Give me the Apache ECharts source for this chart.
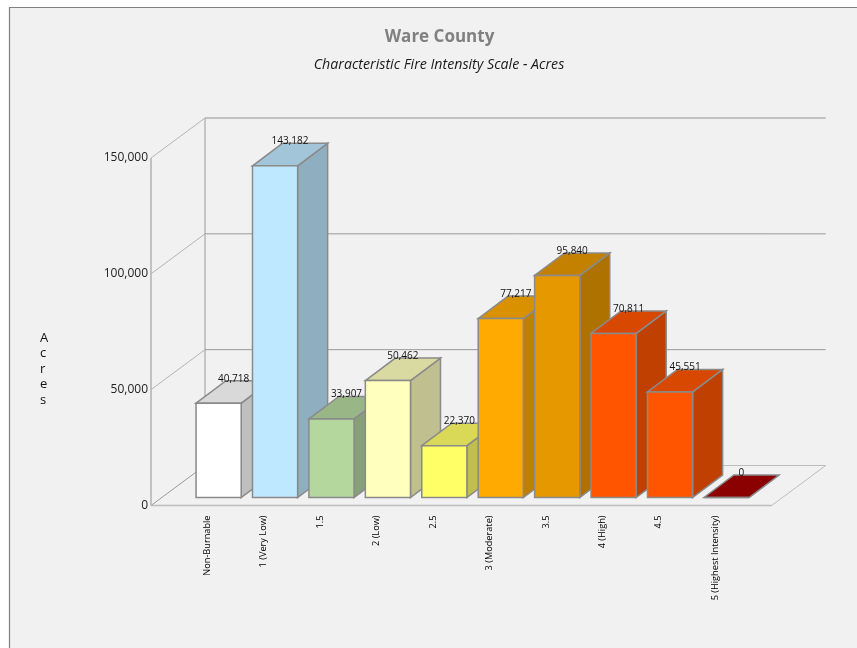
<!DOCTYPE html>
<html>
<head>
<meta charset="utf-8">
<style>html,body{margin:0;padding:0;background:#fff}#chart{width:857px;height:648px}</style>
<script src="https://cdn.jsdelivr.net/npm/echarts@6/dist/echarts.min.js"></script>
</head>
<body>
<div id="chart"></div>
<script>
// Acres per fire intensity class
const categories = ['Non-Burnable', '1 (Very Low)', '1.5', '2 (Low)', '2.5', '3 (Moderate)', '3.5', '4 (High)', '4.5', '5 (Highest Intensity)'];
const acres = [40718, 143182, 33907, 50462, 22370, 77217, 95840, 70811, 45551, 0];
const barColors = ['#ffffff', '#bee8ff', '#b4d79e', '#ffffbe', '#ffff66', '#ffaa00', '#e69800', '#ff5500', '#ff5500', '#a30000'];
const yTicks = [0, 50000, 100000, 150000];

// Oblique projection of the depth axis, in pixels
const DEPTH_X = 54, DEPTH_Y = -40;
const BAR_OFFSET_X = 11.2, BAR_OFFSET_Y = -8;
const BAR_DEPTH_X = 30, BAR_DEPTH_Y = -22.5;
const BAR_WIDTH_RATIO = 0.8;
const FONT = '"Open Sans", sans-serif';

function shade(hex, k) {
  const n = parseInt(hex.slice(1), 16);
  const c = [(n >> 16) & 255, (n >> 8) & 255, n & 255].map(v => Math.round(v * k));
  return 'rgb(' + c.join(',') + ')';
}

function poly(points, fill, stroke, lineWidth) {
  return { type: 'polygon', shape: { points }, style: { fill, stroke, lineWidth, lineJoin: 'miter' } };
}

function line(x1, y1, x2, y2, stroke, lineWidth) {
  return { type: 'line', shape: { x1, y1, x2, y2 }, style: { stroke, lineWidth, fill: null } };
}

// Side wall diagonal and back wall rule for one value tick
function renderWall(params, api) {
  const v = api.value(0);
  const p = api.coord([0, v]);
  const right = api.coord([categories.length + 1, 0])[0];
  const isTop = v === yTicks[yTicks.length - 1];
  const isFloor = v === 0;
  const children = [
    line(p[0], p[1], p[0] + DEPTH_X, p[1] + DEPTH_Y, isFloor ? '#999999' : '#b4b4b4', 1),
    line(p[0] + DEPTH_X, p[1] + DEPTH_Y, right + DEPTH_X, p[1] + DEPTH_Y, isFloor ? '#bdbdbd' : isTop ? '#b0b0b0' : '#9a9a9a', isTop ? 1.5 : 1)
  ];
  if (isFloor) {
    const top = api.coord([0, yTicks[yTicks.length - 1]]);
    children.push(
      line(p[0], p[1], right, p[1], '#bdbdbd', 1.5),
      line(right, p[1], right + DEPTH_X, p[1] + DEPTH_Y, '#bdbdbd', 1),
      line(p[0], p[1], top[0], top[1], '#b0b0b0', 1.5),
      line(p[0] + DEPTH_X, p[1] + DEPTH_Y, top[0] + DEPTH_X, top[1] + DEPTH_Y, '#9a9a9a', 1)
    );
  }
  return { type: 'group', children };
}

// Box corners shared by the bar faces and their value labels
function boxFrame(api) {
  const i = api.value(0);
  const top = api.coord([i, api.value(1)]);
  const base = api.coord([i, 0]);
  const step = api.coord([i + 1, 0])[0] - base[0];
  const w = step * BAR_WIDTH_RATIO;
  const left = base[0] + BAR_OFFSET_X - w / 2;
  return {
    left, right: left + w,
    yTop: top[1] + BAR_OFFSET_Y, yBase: base[1] + BAR_OFFSET_Y,
    dx: BAR_DEPTH_X, dy: BAR_DEPTH_Y, w
  };
}

function renderBar(params, api) {
  const f = boxFrame(api);
  const color = barColors[params.dataIndex];
  const edge = '#8a8a8a';
  return {
    type: 'group',
    children: [
      poly([[f.right, f.yTop], [f.right + f.dx, f.yTop + f.dy], [f.right + f.dx, f.yBase + f.dy], [f.right, f.yBase]], shade(color, 0.75), edge, 1.5),
      poly([[f.left, f.yTop], [f.left + f.dx, f.yTop + f.dy], [f.right + f.dx, f.yTop + f.dy], [f.right, f.yTop]], shade(color, 0.85), edge, 1.5),
      { type: 'rect', shape: { x: f.left, y: f.yTop, width: f.w, height: f.yBase - f.yTop }, style: { fill: color, stroke: edge, lineWidth: 1.5 } }
    ]
  };
}

function renderValueLabel(params, api) {
  const f = boxFrame(api);
  return {
    type: 'text',
    style: {
      x: f.left + f.w / 2 + f.dx / 2,
      y: f.yTop + f.dy - 2,
      text: api.value(1).toLocaleString('en-US'),
      fill: '#111111',
      font: '10px ' + FONT,
      align: 'center',
      verticalAlign: 'middle'
    }
  };
}

const chart = echarts.init(document.getElementById('chart'), null, { renderer: 'canvas' });
const barData = acres.map((v, i) => [i + 1, v]);

chart.setOption({
  backgroundColor: '#ffffff',
  animation: false,
  title: [
    { text: 'Ware County', left: 439.5, top: 29, padding: 0, textAlign: 'center',
      textStyle: { fontFamily: FONT, fontSize: 17, fontWeight: 'bold', color: '#808080' } },
    { text: 'Characteristic Fire Intensity Scale - Acres', left: 439, top: 58, padding: 0, textAlign: 'center',
      textStyle: { fontFamily: FONT, fontSize: 14.2, fontWeight: 'normal', fontStyle: 'italic', color: '#1a1a1a' } }
  ],
  graphic: [
    { type: 'rect', z: -10, shape: { x: 9.5, y: 7.5, width: 860, height: 660 },
      style: { fill: '#f1f1f1', stroke: '#808080', lineWidth: 1.2 } },
    { type: 'text', left: 40, top: 330.5,
      style: { text: 'A\nc\nr\ne\ns', fill: '#111111', font: '13px ' + FONT, align: 'center', lineHeight: 15.5 } }
  ],
  grid: { left: 151, right: 857 - 771.7, top: 158, bottom: 648 - 505.5, containLabel: false },
  xAxis: {
    type: 'category',
    boundaryGap: false,
    data: [''].concat(categories, ['']),
    axisLine: { show: false },
    axisTick: { show: false },
    splitLine: { show: false },
    axisLabel: { interval: 0, rotate: 90, margin: 10, fontSize: 9.2, fontFamily: FONT, color: '#000000' }
  },
  yAxis: {
    type: 'value',
    min: 0,
    max: 150000,
    interval: 50000,
    axisLine: { show: false },
    axisTick: { show: false },
    splitLine: { show: false },
    axisLabel: {
      margin: 3,
      fontSize: 12,
      fontFamily: FONT,
      color: '#222222',
      padding: [0, 0, 4, 0],
      formatter: v => yTicks.includes(v) ? v.toLocaleString('en-US') : ''
    }
  },
  series: [
    { type: 'custom', name: 'walls', coordinateSystem: 'cartesian2d', silent: true, z: 1,
      renderItem: renderWall, data: yTicks.map(v => [v]), encode: { y: 0 }, clip: false },
    { type: 'custom', name: 'Acres', coordinateSystem: 'cartesian2d', z: 2,
      renderItem: renderBar, data: barData, encode: { x: 0, y: 1 }, clip: false },
    { type: 'custom', name: 'values', coordinateSystem: 'cartesian2d', silent: true, z: 3,
      renderItem: renderValueLabel, data: barData, encode: { x: 0, y: 1 }, clip: false }
  ]
});
</script>
</body>
</html>
